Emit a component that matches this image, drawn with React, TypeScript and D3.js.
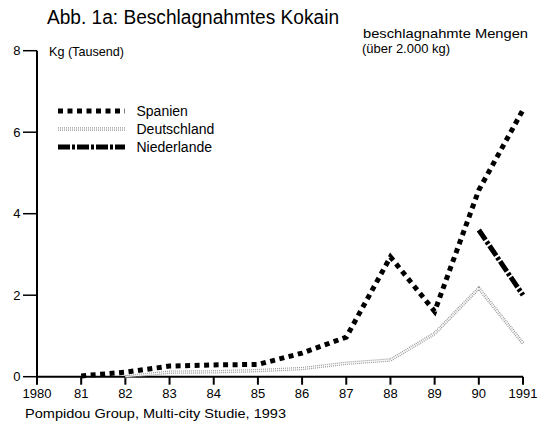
import React from "react";
import * as d3 from "d3";

const years = [1980, 1981, 1982, 1983, 1984, 1985, 1986, 1987, 1988, 1989, 1990, 1991];
const yearLabels = ["1980", "81", "82", "83", "84", "85", "86", "87", "88", "89", "90", "1991"];
const spanien: (number | null)[] = [null, 0.02, 0.11, 0.26, 0.29, 0.3, 0.58, 0.97, 2.94, 1.6, 4.58, 6.55];
const deutschland: (number | null)[] = [null, null, 0.0, 0.11, 0.12, 0.15, 0.2, 0.33, 0.41, 1.06, 2.17, 0.82];
const niederlande: (number | null)[] = [null, null, null, null, null, null, null, null, null, null, 3.6, 2.0];
const yTicks = [0, 2, 4, 6, 8];
const legendNames = ["Spanien", "Deutschland", "Niederlande"];

const FONT = "'Liberation Sans', Arial, Helvetica, sans-serif";

export default function App() {
  const x = d3.scaleLinear().domain([1980, 1991]).range([37, 523]);
  const y = d3.scaleLinear().domain([0, 8]).range([376.7, 50.7]);
  const line = d3
    .line<[number, number | null]>()
    .defined((d) => d[1] !== null)
    .x((d) => x(d[0]))
    .y((d) => y(d[1] as number));
  const pts = (vals: (number | null)[]) => years.map((yr, i) => [yr, vals[i]] as [number, number | null]);

  const spStyle = { stroke: "#000", strokeWidth: 5, strokeDasharray: "5 4.5" };
  const nlStyle = { stroke: "#000", strokeWidth: 5, strokeDasharray: "12 2 3 2" };

  const legendY = [111, 129, 147];

  return (
    <svg
      width={542}
      height={428}
      style={{ position: "absolute", left: 0, top: 0, background: "#fff" }}
      fontFamily={FONT}
    >
      <rect x={0} y={0} width={542} height={428} fill="#fff" />
      <text x={47} y={23.5} fontSize={19.5} textLength={292} lengthAdjust="spacingAndGlyphs">
        Abb. 1a: Beschlagnahmtes Kokain
      </text>
      <text x={49} y={56} fontSize={13} textLength={75} lengthAdjust="spacingAndGlyphs">Kg (Tausend)</text>
      <text x={363} y={38} fontSize={13} textLength={165} lengthAdjust="spacingAndGlyphs">
        beschlagnahmte Mengen
      </text>
      <text x={362} y={53} fontSize={13} textLength={88} lengthAdjust="spacingAndGlyphs">
        (über 2.000 kg)
      </text>

      {/* y axis */}
      <line x1={x(1980)} x2={x(1980)} y1={y(8)} y2={y(0)} stroke="#000" strokeWidth={2} />
      {yTicks.map((t) => (
        <g key={t}>
          <line x1={23} x2={x(1980)} y1={y(t)} y2={y(t)} stroke="#000" strokeWidth={1.5} />
          <text x={20.5} y={y(t) + 4.7} fontSize={13} textAnchor="end">
            {t}
          </text>
        </g>
      ))}

      {/* x axis */}
      <line x1={x(1980)} x2={x(1991)} y1={y(0)} y2={y(0)} stroke="#000" strokeWidth={2} />
      {years.map((yr, i) => (
        <g key={yr}>
          <line x1={x(yr)} x2={x(yr)} y1={y(0)} y2={y(0) + 8} stroke="#000" strokeWidth={2} />
          <text x={x(yr)} y={398} fontSize={13} textAnchor="middle">
            {yearLabels[i]}
          </text>
        </g>
      ))}

      {/* series */}
      <path d={line(pts(deutschland)) || ""} fill="none" stroke="#999" strokeWidth={3.4} strokeDasharray="1 1" />
      <path d={line(pts(deutschland)) || ""} fill="none" stroke="#fff" strokeWidth={0.9} />
      <path d={line(pts(spanien)) || ""} fill="none" {...spStyle} />
      <path d={line(pts(niederlande)) || ""} fill="none" {...nlStyle} />

      {/* legend */}
      <line x1={58} x2={125} y1={legendY[0]} y2={legendY[0]} {...spStyle} />
      <line x1={58} x2={125} y1={legendY[1]} y2={legendY[1]} stroke="#999" strokeWidth={3.4} strokeDasharray="1 1" />
      <line x1={58} x2={125} y1={legendY[1]} y2={legendY[1]} stroke="#fff" strokeWidth={0.9} />
      <line x1={58} x2={125} y1={legendY[2]} y2={legendY[2]} {...nlStyle} />
      {legendNames.map((n, i) => (
        <text key={n} x={136.5} y={legendY[i] + 4.8} fontSize={14}>
          {n}
        </text>
      ))}

      <text x={25} y={418} fontSize={13} textLength={261} lengthAdjust="spacingAndGlyphs">
        Pompidou Group, Multi-city Studie, 1993
      </text>
    </svg>
  );
}
